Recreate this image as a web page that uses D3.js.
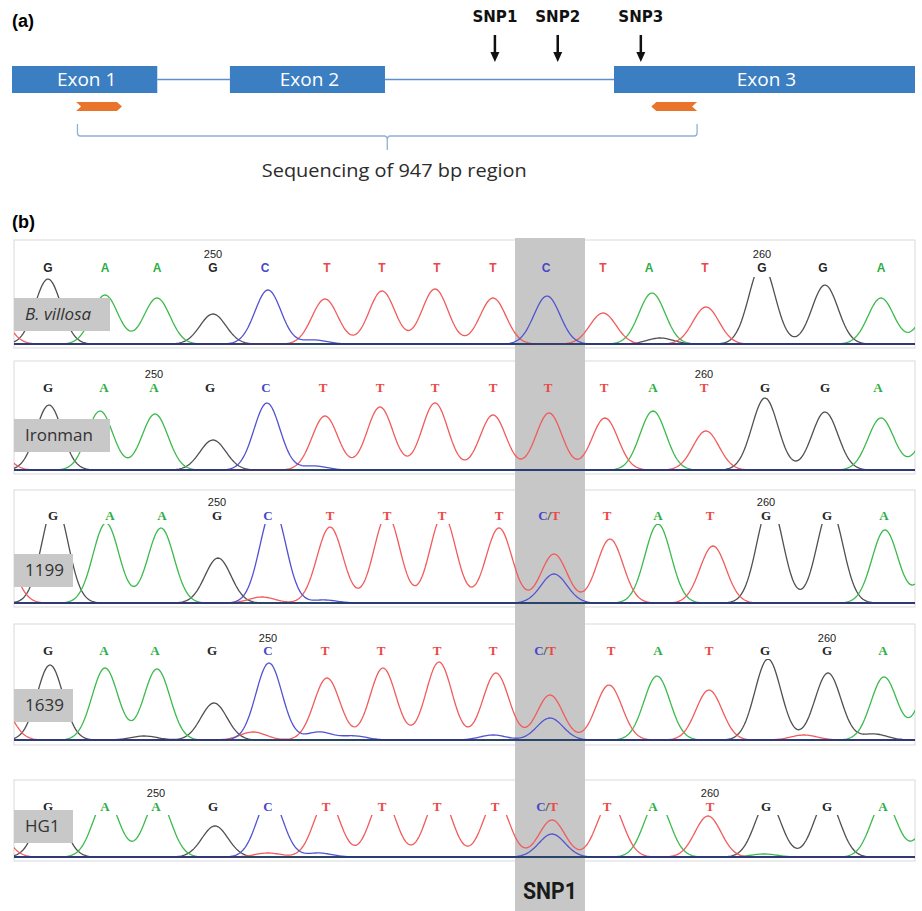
<!DOCTYPE html>
<html>
<head>
<meta charset="utf-8">
<script src="https://cdn.jsdelivr.net/npm/d3@7"></script>
<style>
  body { margin: 0; background: #fff; }
</style>
</head>
<body>
<div id="fig"></div>
<script>
// ---------- (a) gene model, positions in bp ----------
const exonNames = ["Exon 1", "Exon 2", "Exon 3"];
const exonStart = [0, 333, 920];
const exonEnd = [222, 570, 1380];
const primerStart = [98, 977];
const primerEnd = [168, 1047];
const primerDir = [1, -1];
const regionBp = [100, 1047];
const regionLabel = "Sequencing of 947 bp region";
const snpNames = ["SNP1", "SNP2", "SNP3"];
const snpBp = [738, 834, 961];

// ---------- (b) chromatograms ----------
const samples = ["B. villosa", "Ironman", "1199", "1639", "HG1"];
const callsVillosa = ["G","A","A","G","C","T","T","T","T","C","T","A","T","G","G","A"];
const callsIronman = ["G","A","A","G","C","T","T","T","T","T","T","A","T","G","G","A"];
const calls1199 = ["G","A","A","G","C","T","T","T","T","C/T","T","A","T","G","G","A"];
const calls1639 = ["G","A","A","G","C","T","T","T","T","C/T","T","A","T","G","G","A"];
const callsHG1 = ["G","A","A","G","C","T","T","T","T","C/T","T","A","T","G","G","A"];

// call positions in scan units
const posVillosa = [34,91,143,199,251,313,368,423,479,532,589,635,691,748,809,867];
const posIronman = [34,90,140,196,252,309,366,421,479,534,590,639,690,751,811,864];
const pos1199 = [39,96,148,203,254,316,373,428,485,535,593,644,696,752,813,870];
const pos1639 = [34,90,141,198,254,311,367,423,479,531,597,644,695,751,813,869];
const posHG1 = [34,91,142,199,254,312,368,423,481,533,593,639,696,752,813,869];

// numbered positions: index of the call carrying "250" and "260"
const tickLabels = ["250", "260"];
const tick250 = [3, 2, 3, 4, 2];
const tick260 = [13, 12, 13, 14, 12];

// trace peaks: [channel, scan position, signal]
const peaksVillosa = [
  ["T",-19,32],["G",34,65],["A",91,49],["A",143,46],["G",199,30],["C",254,54],
  ["T",311,45],["T",368,53],["T",421,55],["T",479,46],["C",533,48],["T",589,31],
  ["A",638,51],["T",692,37],["G",748,80],["G",811,59],["A",867,46],["A",918,35],
  ["C",300,4],["G",646,6]
];
const peaksIronman = [
  ["T",-22,28],["G",35,65],["A",86,59],["A",141,56],["G",199,30],["C",253,67],
  ["T",311,54],["T",366,63],["T",421,67],["T",479,55],["T",535,57],["T",591,52],
  ["A",639,59],["T",692,39],["G",751,72],["G",811,58],["A",867,52],["A",918,40],
  ["C",300,4]
];
const peaks1199 = [
  ["T",-12,50],["G",41,100],["A",92,80],["A",147,75],["G",204,45],["C",259,95],
  ["T",316,76],["T",373,88],["T",429,88],["T",485,75],["T",540,49],["C",540,29],
  ["T",596,64],["A",644,79],["T",699,57],["G",756,100],["G",816,95],["A",871,73],
  ["A",920,40],["T",248,6],["C",310,3]
];
const peaks1639 = [
  ["T",-16,40],["G",36,75],["A",91,72],["A",143,71],["G",200,37],["C",255,77],
  ["T",313,62],["T",369,72],["T",425,78],["T",482,67],["T",536,45],["C",536,22],
  ["T",595,55],["A",643,64],["T",695,50],["G",754,81],["G",814,67],["A",870,63],
  ["A",918,60],["C",305,8],["C",479,5],["C",340,4],["T",239,8],["G",130,4],
  ["T",790,5],["G",860,6]
];
const peaksHG1 = [
  ["T",-20,30],["G",36,60],["A",92,58],["A",144,58],["G",201,31],["C",256,60],
  ["T",313,58],["T",369,60],["T",425,62],["T",482,58],["T",538,37],["C",538,23],
  ["T",596,55],["A",643,56],["T",694,41],["G",754,56],["G",813,58],["A",870,56],
  ["A",918,35],["T",254,4],["C",305,4],["A",750,3]
];
const snpWindow = [501, 571];

const allCalls = [callsVillosa, callsIronman, calls1199, calls1639, callsHG1];
const allPos = [posVillosa, posIronman, pos1199, pos1639, posHG1];
const allPeaks = [peaksVillosa, peaksIronman, peaks1199, peaks1639, peaksHG1];

// ---------- layout ----------
const W = 922, H = 911;
const traceCol = { G: "#505050", A: "#3cba4d", T: "#f15b5b", C: "#5252d2" };
const letterCol = { G: "#262626", A: "#2fae45", T: "#ee4646", C: "#4848c8" };
const panels = [
  {top: 240, bottom: 348, base: 344, letter: 272, num: 258, clip: 277, lab: 298, labW: 96},
  {top: 361, bottom: 474, base: 470, letter: 392, num: 378, clip: 397, lab: 419, labW: 96},
  {top: 490, bottom: 607, base: 603, letter: 520, num: 506, clip: 524, lab: 554, labW: 59},
  {top: 624, bottom: 745, base: 740, letter: 655, num: 642, clip: 659, lab: 689, labW: 59},
  {top: 780, bottom: 861, base: 857, letter: 811, num: 797, clip: 815, lab: 810, labW: 59}
];

const svg = d3.select("#fig").append("svg")
    .attr("width", W)
    .attr("height", H);

// ---------- panel (a) ----------
svg.append("text")
  .attr("x", 12).attr("y", 27)
  .style("font", "bold 18px 'Liberation Sans', Arial, sans-serif")
  .text("(a)");

const gx = d3.scaleLinear().domain([0, 1380]).range([12, 915]);
const blue = "#3b7ec2";

// introns
for (let i = 0; i < exonStart.length - 1; i++) {
  svg.append("line")
    .attr("x1", gx(exonEnd[i])).attr("x2", gx(exonStart[i + 1]))
    .attr("y1", 79.5).attr("y2", 79.5)
    .attr("stroke", "#5d8fc9").attr("stroke-width", 1.5);
}

svg.selectAll(".exon")
  .data(exonNames)
  .join("rect")
    .attr("x", (d, i) => gx(exonStart[i]))
    .attr("y", 66)
    .attr("width", (d, i) => gx(exonEnd[i]) - gx(exonStart[i]))
    .attr("height", 27)
    .attr("fill", blue);

svg.selectAll(".exonLab")
  .data(exonNames)
  .join("text")
    .attr("x", (d, i) => (gx(exonStart[i]) + gx(exonEnd[i])) / 2 + 2)
    .attr("y", 86)
    .attr("text-anchor", "middle")
    .attr("fill", "#fff")
    .style("font", "19px 'Open Sans', sans-serif")
    .text(d => d);

// primers
primerStart.forEach((s, i) => {
  const a = gx(s), b = gx(primerEnd[i]), t = 102, m = 106.5, bt = 111, n = 5;
  let pts;
  if (primerDir[i] > 0) {
    pts = [[a, t], [b - n, t], [b, m], [b - n, bt], [a, bt], [a + n, m]];
  } else {
    pts = [[b, t], [a + n, t], [a, m], [a + n, bt], [b, bt], [b - n, m]];
  }
  svg.append("polygon")
    .attr("points", pts.map(p => p.join(",")).join(" "))
    .attr("fill", "#e9742c");
});

// bracket
{
  const xl = gx(regionBp[0]), xr = gx(regionBp[1]), xc = (xl + xr) / 2;
  const p = d3.path();
  p.moveTo(xl, 124); p.lineTo(xl, 133);
  p.quadraticCurveTo(xl, 136, xl + 3, 136);
  p.lineTo(xc - 3, 136);
  p.quadraticCurveTo(xc, 136, xc, 140);
  p.lineTo(xc, 150);
  p.moveTo(xc, 140);
  p.quadraticCurveTo(xc, 136, xc + 3, 136);
  p.lineTo(xr - 3, 136);
  p.quadraticCurveTo(xr, 136, xr, 133);
  p.lineTo(xr, 124);
  svg.append("path").attr("d", p.toString())
    .attr("fill", "none").attr("stroke", "#8fb0d6").attr("stroke-width", 1.3);

  svg.append("text")
    .attr("x", xc + 7).attr("y", 177)
    .attr("text-anchor", "middle")
    .attr("fill", "#2b2b2b")
    .attr("textLength", 265).attr("lengthAdjust", "spacingAndGlyphs")
    .style("font", "19px 'Open Sans', sans-serif")
    .text(regionLabel);
}

// SNP arrows
snpNames.forEach((name, i) => {
  const x = gx(snpBp[i]);
  svg.append("text")
    .attr("x", x).attr("y", 22)
    .attr("text-anchor", "middle")
    .attr("fill", "#111")
    .attr("textLength", 45).attr("lengthAdjust", "spacingAndGlyphs")
    .style("font", "bold 15px 'DejaVu Sans', sans-serif")
    .text(name);
  svg.append("line")
    .attr("x1", x).attr("x2", x).attr("y1", 35).attr("y2", 54)
    .attr("stroke", "#111").attr("stroke-width", 2.5);
  svg.append("polygon")
    .attr("points", `${x - 4.5},52 ${x + 4.5},52 ${x},62`)
    .attr("fill", "#111");
});

// ---------- panel (b) ----------
svg.append("text")
  .attr("x", 12).attr("y", 228)
  .style("font", "bold 18px 'Liberation Sans', Arial, sans-serif")
  .text("(b)");

const xs = d3.scaleLinear().domain([0, 901]).range([14, 915]);
const sigma = 13;
const channels = ["G", "A", "T", "C"];

// panel backgrounds
panels.forEach(p => {
  svg.append("rect")
    .attr("x", xs(0)).attr("y", p.top)
    .attr("width", xs(901) - xs(0)).attr("height", p.bottom - p.top)
    .attr("fill", "#fff").attr("stroke", "#d9d9d9").attr("stroke-width", 1);
});

// SNP1 highlight column
svg.append("rect")
  .attr("x", xs(snpWindow[0])).attr("y", 238)
  .attr("width", xs(snpWindow[1]) - xs(snpWindow[0]))
  .attr("height", H - 238)
  .attr("fill", "#c7c7c7");

svg.append("text")
  .attr("x", xs((snpWindow[0] + snpWindow[1]) / 2)).attr("y", 899)
  .attr("text-anchor", "middle")
  .attr("fill", "#1a1a1a")
  .attr("textLength", 54).attr("lengthAdjust", "spacingAndGlyphs")
  .style("font", "bold 24px Roboto, 'Open Sans', sans-serif")
  .text("SNP1");

const scanPts = d3.range(-30, 932, 1.5);

panels.forEach((p, k) => {
  const y = d3.scaleLinear().domain([0, 100]).range([p.base, p.base - 100]);
  const g = svg.append("g");

  const clipId = "clip" + k;
  svg.append("clipPath").attr("id", clipId)
    .append("rect")
      .attr("x", xs(0)).attr("y", p.clip)
      .attr("width", xs(901) - xs(0)).attr("height", p.base + 2 - p.clip);

  const line = d3.line()
    .x(d => xs(d[0]))
    .y(d => y(d[1]));

  channels.forEach(c => {
    const pk = allPeaks[k].filter(d => d[0] === c);
    const pts = scanPts.map(s => [s, d3.sum(pk, d => d[2] * Math.exp(-((s - d[1]) ** 2) / (2 * sigma * sigma)))]);
    g.append("path")
      .attr("clip-path", `url(#${clipId})`)
      .attr("d", line(pts))
      .attr("fill", "none")
      .attr("stroke", traceCol[c])
      .attr("stroke-width", 1.3);
  });

  // baseline
  g.append("line")
    .attr("x1", xs(0)).attr("x2", xs(901))
    .attr("y1", y(0)).attr("y2", y(0))
    .attr("stroke", "#25336e").attr("stroke-width", 1.8).attr("opacity", 0.85);

  // base calls
  const serif = k > 0;
  allCalls[k].forEach((b, i) => {
    const t = g.append("text")
      .attr("x", xs(allPos[k][i])).attr("y", p.letter)
      .attr("text-anchor", "middle")
      .style("font-weight", "bold")
      .style("font-size", serif ? "13px" : "12px")
      .style("font-family", serif ? "'Liberation Serif', serif" : "'Liberation Sans', sans-serif");
    if (b.length > 1) {
      const parts = b.split("/");
      t.append("tspan").attr("fill", letterCol[parts[0]]).text(parts[0]);
      t.append("tspan").attr("fill", "#444").text("/");
      t.append("tspan").attr("fill", letterCol[parts[1]]).text(parts[1]);
    } else {
      t.attr("fill", letterCol[b]).text(b);
    }
  });

  [tick250[k], tick260[k]].forEach((idx, j) => {
    g.append("text")
      .attr("x", xs(allPos[k][idx])).attr("y", p.num)
      .attr("text-anchor", "middle")
      .attr("fill", "#222")
      .style("font", "11px 'Liberation Sans', sans-serif")
      .text(tickLabels[j]);
  });

  // sample label
  g.append("rect")
    .attr("x", xs(0)).attr("y", p.lab)
    .attr("width", p.labW).attr("height", 33)
    .attr("fill", "#c8c8c8");
  g.append("text")
    .attr("x", xs(0) + 11).attr("y", p.lab + 22)
    .attr("fill", "#333")
    .style("font", (k === 0 ? "italic " : "") + "17px 'Open Sans', sans-serif")
    .text(samples[k]);
});
</script>
</body>
</html>
